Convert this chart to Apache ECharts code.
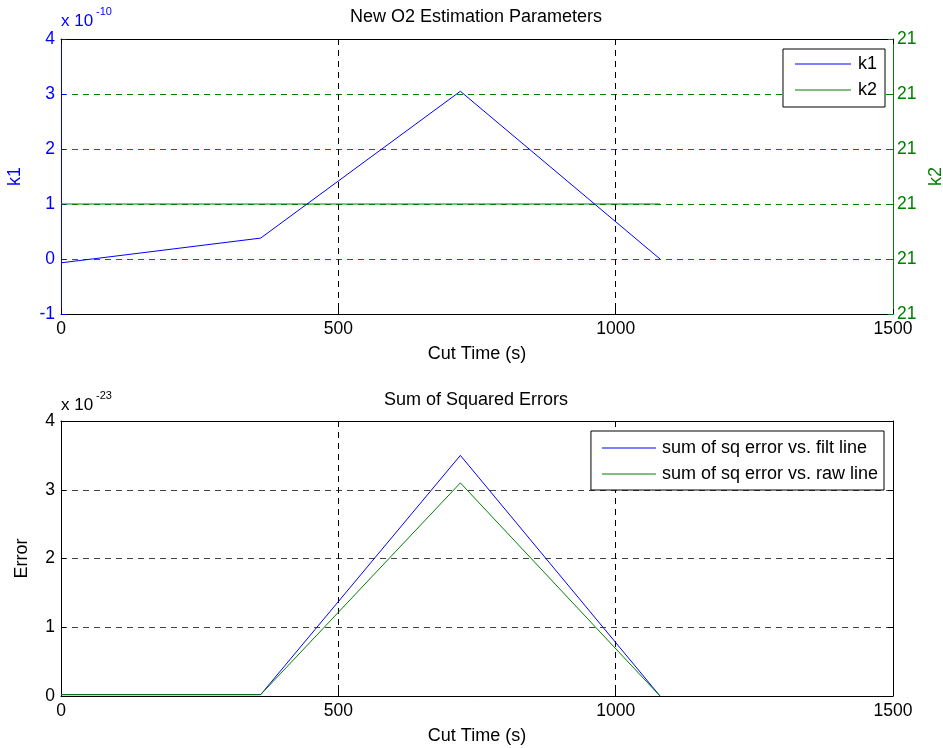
<!DOCTYPE html>
<html><head><meta charset="utf-8">
<script src="https://cdn.jsdelivr.net/npm/echarts@6/dist/echarts.min.js"></script>
<style>html,body{margin:0;padding:0;background:#fff}#c{width:943px;height:748px}</style>
</head><body><div id="c"></div>
<script>
// Data
const cutTime = [0, 360, 720, 1080];
const k1 = [-0.07, 0.38, 3.05, 0.0];          // units of 1e-10
const k2 = [21, 21, 21, 21];
const sseFilt = [0.02, 0.02, 3.5, 0.0];       // units of 1e-23
const sseRaw = [0.02, 0.02, 3.1, 0.0];        // units of 1e-23
const xTicks = [0, 500, 1000, 1500];
const k1Ticks = [-1, 0, 1, 2, 3, 4];
const errTicks = [0, 1, 2, 3, 4];

const F = 'Liberation Sans, Arial, sans-serif';
const BLUE = '#0000ff', GREEN = '#008000';
const TS = 17.5, NS = 18;
const pairs = (xs, ys) => xs.map((x, i) => [x, ys[i]]);
const d = 1e-6;

const chart = echarts.init(document.getElementById('c'), null, {renderer: 'canvas'});
const xCommon = (gi) => ({
  type: 'value', gridIndex: gi, position: 'bottom', min: xTicks[0], max: xTicks[xTicks.length - 1], interval: 500,
  axisLine: {onZero: false, lineStyle: {color: '#000', width: 1}},
  axisTick: {inside: true, length: 5, lineStyle: {color: '#000'}},
  axisLabel: {color: '#000', fontSize: TS, fontFamily: F, margin: 6, formatter: v => String(v)},
  splitLine: {show: true, lineStyle: {color: '#000', type: [6, 5], width: 1}},
  name: 'Cut Time (s)', nameLocation: 'middle', nameGap: 31,
  nameTextStyle: {color: '#000', fontSize: NS, fontFamily: F}
});
const xTop = (gi) => ({
  type: 'value', gridIndex: gi, position: 'top', min: 0, max: 1500, interval: 500,
  axisLine: {onZero: false, lineStyle: {color: '#000'}},
  axisTick: {inside: true, length: 5, lineStyle: {color: '#000'}},
  axisLabel: {show: false}, splitLine: {show: false}
});

chart.setOption({
  animation: false,
  backgroundColor: '#fff',
  title: [
    {text: 'New O2 Estimation Parameters', left: 476, top: 8, textAlign: 'center', padding: 0,
     textStyle: {fontSize: NS, fontWeight: 'normal', color: '#000', fontFamily: F}},
    {text: 'Sum of Squared Errors', left: 476, top: 391, textAlign: 'center', padding: 0,
     textStyle: {fontSize: NS, fontWeight: 'normal', color: '#000', fontFamily: F}}
  ],
  grid: [
    {left: 61, right: 50, top: 39, height: 275, containLabel: false, outerBoundsMode: 'none'},
    {left: 61, right: 50, top: 421, height: 275, containLabel: false, outerBoundsMode: 'none'}
  ],
  legend: [
    {data: ['k1', 'k2'], orient: 'vertical', right: 58, top: 49, itemWidth: 56, itemHeight: 1,
     icon: 'rect', itemGap: 8, padding: [6, 8, 8, 12], borderColor: '#000', borderWidth: 1,
     backgroundColor: '#fff', textStyle: {fontSize: NS, color: '#000', fontFamily: F, padding: [0, 0, 0, 2]}},
    {data: ['sum of sq error vs. filt line', 'sum of sq error vs. raw line'], orient: 'vertical',
     right: 59, top: 431, itemWidth: 54, itemHeight: 1, icon: 'rect', itemGap: 8,
     padding: [8, 6, 7, 11], borderColor: '#000', borderWidth: 1, backgroundColor: '#fff',
     textStyle: {fontSize: NS, color: '#000', fontFamily: F, padding: [0, 0, 0, 1]}}
  ],
  xAxis: [xCommon(0), xTop(0), xCommon(1), xTop(1)],
  yAxis: [
    {type: 'value', gridIndex: 0, min: k1Ticks[0], max: k1Ticks[k1Ticks.length - 1], interval: 1,
     axisLine: {show: true, onZero: false, lineStyle: {color: BLUE}},
     axisTick: {show: true, inside: true, length: 5, lineStyle: {color: BLUE}},
     axisLabel: {color: BLUE, fontSize: TS, fontFamily: F, margin: 6},
     splitLine: {show: false},
     name: 'k1', nameLocation: 'middle', nameGap: 37,
     nameTextStyle: {color: BLUE, fontSize: NS, fontFamily: F}},
    {type: 'value', gridIndex: 0, position: 'right', min: 21 - 2 * d, max: 21 + 3 * d, interval: d,
     axisLine: {show: true, onZero: false, lineStyle: {color: GREEN}},
     axisTick: {show: true, inside: true, length: 5, lineStyle: {color: GREEN}},
     axisLabel: {color: GREEN, fontSize: TS, fontFamily: F, margin: 4,
                 formatter: v => String(Math.round(v))},
     splitLine: {show: true, lineStyle: {color: GREEN, type: [6, 5], width: 1}},
     name: 'k2', nameLocation: 'middle', nameGap: 26, nameRotate: 90,
     nameTextStyle: {color: GREEN, fontSize: NS, fontFamily: F}},
    {type: 'value', gridIndex: 1, min: errTicks[0], max: errTicks[errTicks.length - 1], interval: 1,
     axisLine: {show: true, onZero: false, lineStyle: {color: '#000'}},
     axisTick: {show: true, inside: true, length: 5, lineStyle: {color: '#000'}},
     axisLabel: {color: '#000', fontSize: TS, fontFamily: F, margin: 6},
     splitLine: {show: true, lineStyle: {color: '#444', type: [6, 5], width: 1}},
     name: 'Error', nameLocation: 'middle', nameGap: 30,
     nameTextStyle: {color: '#000', fontSize: NS, fontFamily: F}},
    {type: 'value', gridIndex: 1, position: 'right', min: 0, max: 4, interval: 1,
     axisLine: {show: true, onZero: false, lineStyle: {color: '#000'}},
     axisTick: {show: true, inside: true, length: 5, lineStyle: {color: '#000'}},
     axisLabel: {show: false}, splitLine: {show: false}}
  ],
  series: [
    {name: 'k1', type: 'line', xAxisIndex: 0, yAxisIndex: 0, data: pairs(cutTime, k1),
     showSymbol: false, symbol: 'none', lineStyle: {color: BLUE, width: 1}, itemStyle: {color: BLUE}, z: 3},
    {name: 'k2', type: 'line', xAxisIndex: 0, yAxisIndex: 1, data: pairs(cutTime, k2),
     showSymbol: false, symbol: 'none', lineStyle: {color: GREEN, width: 1}, itemStyle: {color: GREEN}, z: 2},
    {name: 'sum of sq error vs. filt line', type: 'line', xAxisIndex: 2, yAxisIndex: 2,
     data: pairs(cutTime, sseFilt), showSymbol: false, symbol: 'none',
     lineStyle: {color: BLUE, width: 1}, itemStyle: {color: BLUE}},
    {name: 'sum of sq error vs. raw line', type: 'line', xAxisIndex: 2, yAxisIndex: 2,
     data: pairs(cutTime, sseRaw), showSymbol: false, symbol: 'none',
     lineStyle: {color: GREEN, width: 1}, itemStyle: {color: GREEN}}
  ],
  graphic: [
    {type: 'text', left: 61, top: 13, style: {text: 'x 10', fill: BLUE, font: '17px ' + F}},
    {type: 'text', left: 96, top: 6, style: {text: '-10', fill: BLUE, font: '11px ' + F}},
    {type: 'text', left: 61, top: 397, style: {text: 'x 10', fill: '#000', font: '17px ' + F}},
    {type: 'text', left: 96, top: 390, style: {text: '-23', fill: '#000', font: '11px ' + F}}
  ]
});
</script></body></html>
